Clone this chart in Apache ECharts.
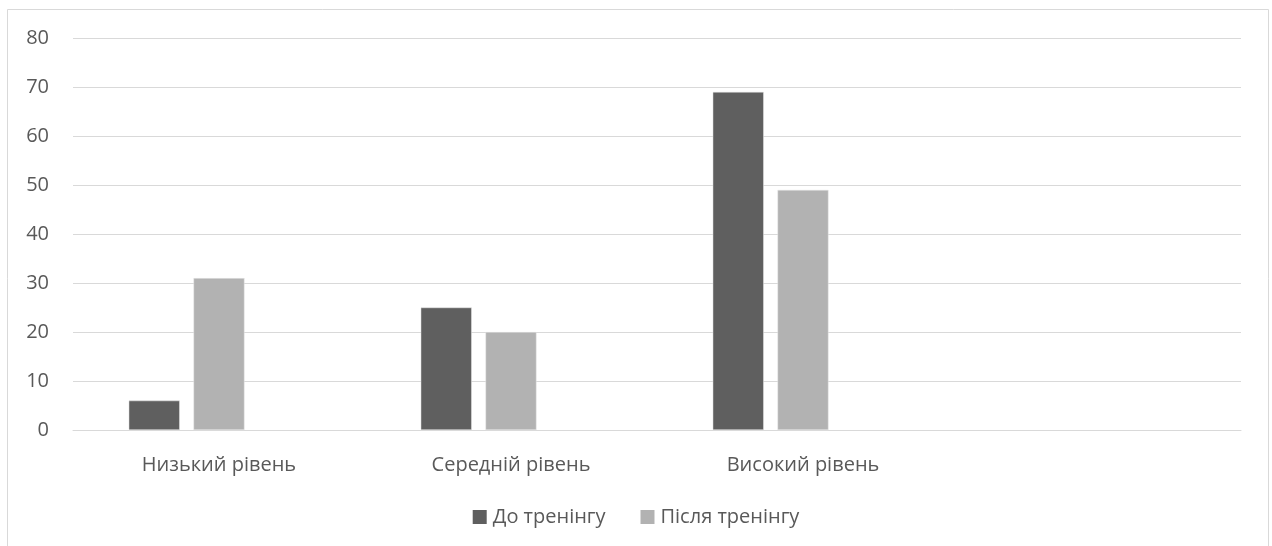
<!DOCTYPE html>
<html>
<head>
<meta charset="utf-8">
<script src="https://cdn.jsdelivr.net/npm/echarts@6/dist/echarts.min.js"></script>
<style>
  html, body { margin: 0; padding: 0; background: #fff; }
  #chart { width: 1272px; height: 546px; }
</style>
</head>
<body>
<div id="chart"></div>
<script>
const categories = ['Низький рівень', 'Середній рівень', 'Високий рівень', ''];
const seriesNames = ['До тренінгу', 'Після тренінгу'];
const beforeTraining = [6, 25, 69, null];
const afterTraining = [31, 20, 49, null];
const emptySlot = [null, null, null, null];
const yTicks = { min: 0, max: 80, interval: 10 };

const font = '"Open Sans", sans-serif';
const chart = echarts.init(document.getElementById('chart'));

chart.setOption({
  animation: false,
  backgroundColor: '#ffffff',
  graphic: [{
    type: 'rect',
    shape: { x: 7.5, y: 9.5, width: 1261, height: 560 },
    style: { fill: 'none', stroke: '#d9d9d9', lineWidth: 1 },
    silent: true
  }],
  grid: { left: 73, right: 31, top: 38, bottom: 116, containLabel: false },
  legend: {
    data: seriesNames,
    bottom: 14,
    left: 'center',
    itemWidth: 14,
    itemHeight: 14,
    itemGap: 35,
    icon: 'rect',
    itemStyle: { borderWidth: 0 },
    textStyle: { color: '#595959', fontSize: 20, fontFamily: font, padding: [0, 0, 0, 1] }
  },
  xAxis: {
    type: 'category',
    data: categories,
    axisLine: { show: true, lineStyle: { color: '#d9d9d9', width: 1 } },
    axisTick: { show: false },
    axisLabel: { color: '#595959', fontSize: 20, fontFamily: font, margin: 25 },
    splitLine: { show: false }
  },
  yAxis: {
    type: 'value',
    min: yTicks.min,
    max: yTicks.max,
    interval: yTicks.interval,
    axisLine: { show: false },
    axisTick: { show: false },
    axisLabel: { color: '#595959', fontSize: 20, fontFamily: font, margin: 24, align: 'right' },
    splitLine: { lineStyle: { color: '#d9d9d9', width: 1 } }
  },
  series: [
    {
      name: seriesNames[0], type: 'bar', data: beforeTraining,
      barWidth: 51, barGap: '27%',
      itemStyle: { color: '#5f5f5f', borderColor: '#e8e8e8', borderWidth: 0.5 }
    },
    {
      name: seriesNames[1], type: 'bar', data: afterTraining,
      barWidth: 51, barGap: '27%',
      itemStyle: { color: '#b2b2b2', borderColor: '#e8e8e8', borderWidth: 0.5 }
    },
    {
      name: 'slot', type: 'bar', data: emptySlot,
      barWidth: 51, barGap: '27%',
      itemStyle: { color: '#ffffff' }
    }
  ]
});
</script>
</body>
</html>
